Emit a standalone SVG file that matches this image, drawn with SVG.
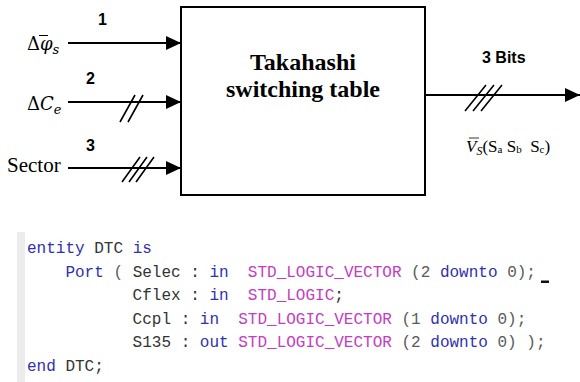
<svg xmlns="http://www.w3.org/2000/svg" width="580" height="382" viewBox="0 0 580 382">
  <style>
    .edge { stroke: #000; stroke-width: 2; fill: none; }
    .tick { stroke: #000; stroke-width: 1.6; fill: none; }
    .num { font-family: "Liberation Sans", Arial, sans-serif; font-weight: bold; font-size: 16px; fill: #000; }
    .math { font-family: "DejaVu Serif", "Liberation Serif", serif; font-size: 18px; fill: #000; }
    .serif { font-family: "Liberation Serif", "Times New Roman", serif; fill: #000; }
    .code { font-family: "Liberation Mono", "Courier New", monospace; font-size: 16px; white-space: pre; fill: #333; }
    .kw { fill: #3030b4; }
    .ty { fill: #c43cc4; }
    .pn { fill: #5a5a5a; }
  </style>
  <defs>
    <marker id="arrow" viewBox="0 0 15 14" refX="15" refY="7" markerWidth="15" markerHeight="14" markerUnits="userSpaceOnUse" orient="auto">
      <path d="M0,0 L15,7 L0,14 Z" fill="#000"/>
    </marker>
  </defs>

  <rect width="580" height="382" fill="#fff"/>

  <!-- central block -->
  <g id="switching-table">
    <rect x="181" y="7" width="244" height="188" fill="#fff" stroke="#000" stroke-width="2"/>
    <text class="serif" x="303" y="70" font-size="24" font-weight="bold" text-anchor="middle">Takahashi</text>
    <text class="serif" x="303" y="97" font-size="24" font-weight="bold" text-anchor="middle">switching table</text>
  </g>

  <!-- input labels -->
  <g id="in-flux">
    <text class="math" x="27" y="50">Δ<tspan font-style="italic">φ</tspan><tspan font-style="italic" font-size="13" dy="4">s</tspan></text>
    <line x1="39" y1="35.5" x2="48" y2="35.5" stroke="#000" stroke-width="1"/>
    <text class="num" x="98" y="25">1</text>
  </g>
  <g id="in-torque">
    <text class="math" x="27" y="110">Δ<tspan font-style="italic">C</tspan><tspan font-style="italic" font-size="13" dy="4">e</tspan></text>
    <text class="num" x="86" y="84">2</text>
  </g>
  <g id="in-sector">
    <text class="serif" x="7" y="172" font-size="21">Sector</text>
    <text class="num" x="86" y="151">3</text>
  </g>

  <!-- output labels -->
  <g id="out-vector">
    <text class="num" x="482" y="63" font-size="17">3 Bits</text>
    <text class="serif" x="466" y="152" font-size="17" style="white-space:pre"><tspan font-style="italic">V</tspan><tspan font-style="italic" font-size="12" dy="3">S</tspan><tspan dy="-3">(S</tspan><tspan font-size="11" dy="1">a</tspan><tspan dy="-1"> S</tspan><tspan font-size="11" dy="1">b</tspan><tspan dy="-1">  S</tspan><tspan font-size="11" dy="1">c</tspan><tspan dy="-1">)</tspan></text>
    <line x1="469" y1="138" x2="479" y2="138" stroke="#000" stroke-width="0.8"/>
  </g>

  <!-- connectors -->
  <g id="connectors">
    <line class="edge" x1="68" y1="43" x2="181" y2="43" marker-end="url(#arrow)"/>
    <line class="edge" x1="68" y1="102" x2="181" y2="102" marker-end="url(#arrow)"/>
    <line class="edge" x1="68" y1="168" x2="181" y2="168" marker-end="url(#arrow)"/>
    <line class="edge" x1="425" y1="95" x2="580" y2="95" marker-end="url(#arrow)"/>
    <!-- bus width ticks -->
    <path class="tick" d="M120,122 L135,95 M128,122 L143,95"/>
    <path class="tick" d="M122,182 L140,157 M129,182 L147,157 M136,182 L154,157"/>
    <path class="tick" d="M465,111 L486,85 M473,111 L494,85 M481,111 L502,85"/>
  </g>

  <!-- VHDL entity declaration -->
  <g id="vhdl-entity">
    <rect x="17" y="232" width="8" height="150" fill="#ececec"/>
    <text class="code" x="27" y="253"><tspan class="kw">entity</tspan> DTC <tspan class="kw">is</tspan></text>
    <text class="code" x="27" y="276.5">    <tspan class="kw">Port</tspan> <tspan class="pn">(</tspan> Selec : <tspan class="kw">in</tspan>  <tspan class="ty">STD_LOGIC_VECTOR</tspan> <tspan class="pn">(2</tspan> <tspan class="kw">downto</tspan> <tspan class="pn">0);</tspan></text>
    <rect x="541" y="280.5" width="8" height="2.5" fill="#111"/>
    <text class="code" x="27" y="300">           Cflex : <tspan class="kw">in</tspan>  <tspan class="ty">STD_LOGIC</tspan>;</text>
    <text class="code" x="27" y="323.5">           Ccpl : <tspan class="kw">in</tspan>  <tspan class="ty">STD_LOGIC_VECTOR</tspan> <tspan class="pn">(1</tspan> <tspan class="kw">downto</tspan> <tspan class="pn">0);</tspan></text>
    <text class="code" x="27" y="347">           S135 : <tspan class="kw">out</tspan> <tspan class="ty">STD_LOGIC_VECTOR</tspan> <tspan class="pn">(2</tspan> <tspan class="kw">downto</tspan> <tspan class="pn">0) );</tspan></text>
    <text class="code" x="27" y="371"><tspan class="kw">end</tspan> DTC;</text>
  </g>
</svg>
